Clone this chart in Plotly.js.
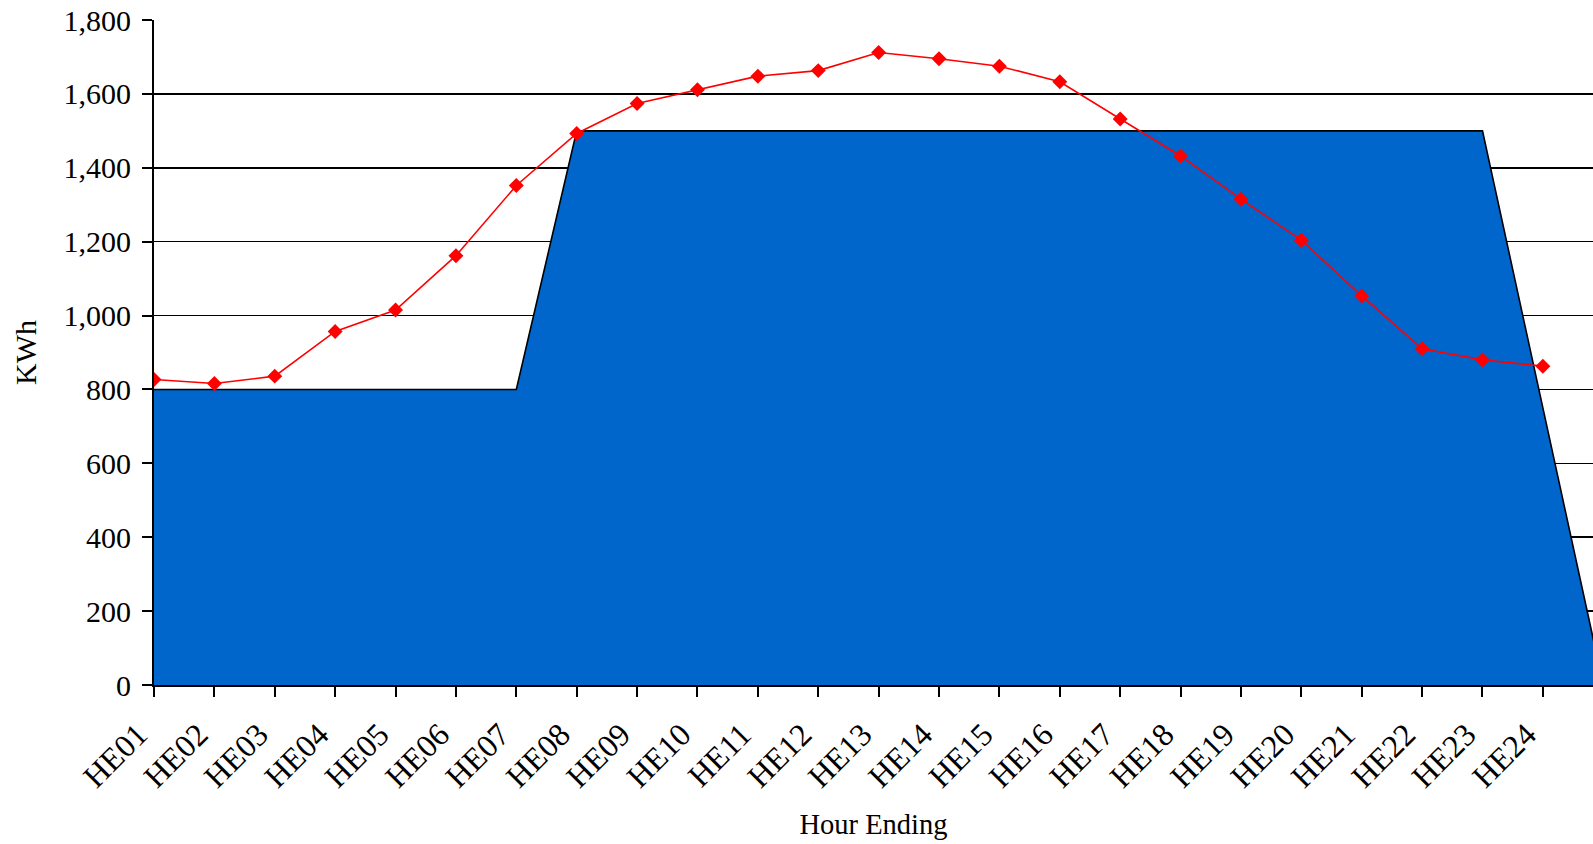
<!DOCTYPE html>
<html>
<head>
<meta charset="utf-8">
<script src="https://cdn.plot.ly/plotly-3.0.1.min.js"></script>
<style>
  html, body { margin: 0; padding: 0; background: #ffffff; }
  #chart { width: 1593px; height: 844px; }
</style>
</head>
<body>
<div id="chart"></div>
<script>
// Hour-ending categories (a 25th, unlabeled slot lies just past the visible plot edge)
const hourLabels = ['HE01','HE02','HE03','HE04','HE05','HE06','HE07','HE08','HE09','HE10','HE11','HE12',
                    'HE13','HE14','HE15','HE16','HE17','HE18','HE19','HE20','HE21','HE22','HE23','HE24'];
const extraSlot = ['HE25'];

// Blue area series (capacity / block), KWh
const areaValues = [800, 800, 800, 800, 800, 800, 800,
                    1500, 1500, 1500, 1500, 1500, 1500, 1500, 1500, 1500, 1500, 1500, 1500, 1500, 1500, 1500, 1500,
                    750, 0];

// Red line series (load), KWh
const loadValues = [827, 816, 836, 957, 1015, 1162, 1352, 1493, 1574, 1611, 1648, 1663,
                    1712, 1695, 1675, 1633, 1532, 1432, 1315, 1204, 1053, 910, 880, 863];

const yTicks = [0, 200, 400, 600, 800, 1000, 1200, 1400, 1600, 1800];

const areaX = hourLabels.concat(extraSlot);

const fontFamily = '"Liberation Serif", "Times New Roman", Times, serif';

const traces = [
  {
    type: 'scatter',
    mode: 'lines',
    x: areaX,
    y: areaValues,
    fill: 'tozeroy',
    fillcolor: '#0066CC',
    line: { color: '#000000', width: 1.6 },
    hoverinfo: 'x+y',
    showlegend: false
  },
  {
    type: 'scatter',
    mode: 'lines+markers',
    x: hourLabels,
    y: loadValues,
    line: { color: '#FF0000', width: 1.6 },
    marker: { symbol: 'diamond', size: 11.5, color: '#FF0000' },
    showlegend: false
  }
];

const layout = {
  width: 1593,
  height: 844,
  margin: { l: 154, r: 0, t: 20, b: 159 },
  paper_bgcolor: '#ffffff',
  plot_bgcolor: '#ffffff',
  font: { family: fontFamily, color: '#000000', size: 30 },
  showlegend: false,
  xaxis: {
    type: 'category',
    categoryorder: 'array',
    categoryarray: areaX,
    range: [0, 23.83],
    tickmode: 'array',
    tickvals: hourLabels,
    ticktext: hourLabels,
    tickangle: -45,
    ticks: 'outside',
    ticklen: 10,
    tickwidth: 2,
    tickcolor: '#000000',
    ticklabelstandoff: 6,
    ticklabelshift: -16,
    showline: true,
    linecolor: '#000000',
    linewidth: 2,
    showgrid: false,
    zeroline: false,
    tickfont: { family: fontFamily, size: 32, color: '#000000' },
    title: { text: 'Hour Ending', font: { family: fontFamily, size: 28.5, color: '#000000' }, standoff: 21 }
  },
  yaxis: {
    range: [0, 1800],
    tickmode: 'array',
    tickvals: yTicks,
    tickformat: ',d',
    ticks: 'outside',
    ticklen: 10,
    tickwidth: 2,
    tickcolor: '#000000',
    ticklabelstandoff: 5,
    showline: true,
    linecolor: '#000000',
    linewidth: 2,
    showgrid: true,
    gridcolor: '#000000',
    gridwidth: 1.6,
    zeroline: false,
    tickfont: { family: fontFamily, size: 30, color: '#000000' },
    title: { text: 'KWh', font: { family: fontFamily, size: 30, color: '#000000' }, standoff: 18 }
  }
};

Plotly.newPlot('chart', traces, layout, { displayModeBar: false, staticPlot: true });
</script>
</body>
</html>
